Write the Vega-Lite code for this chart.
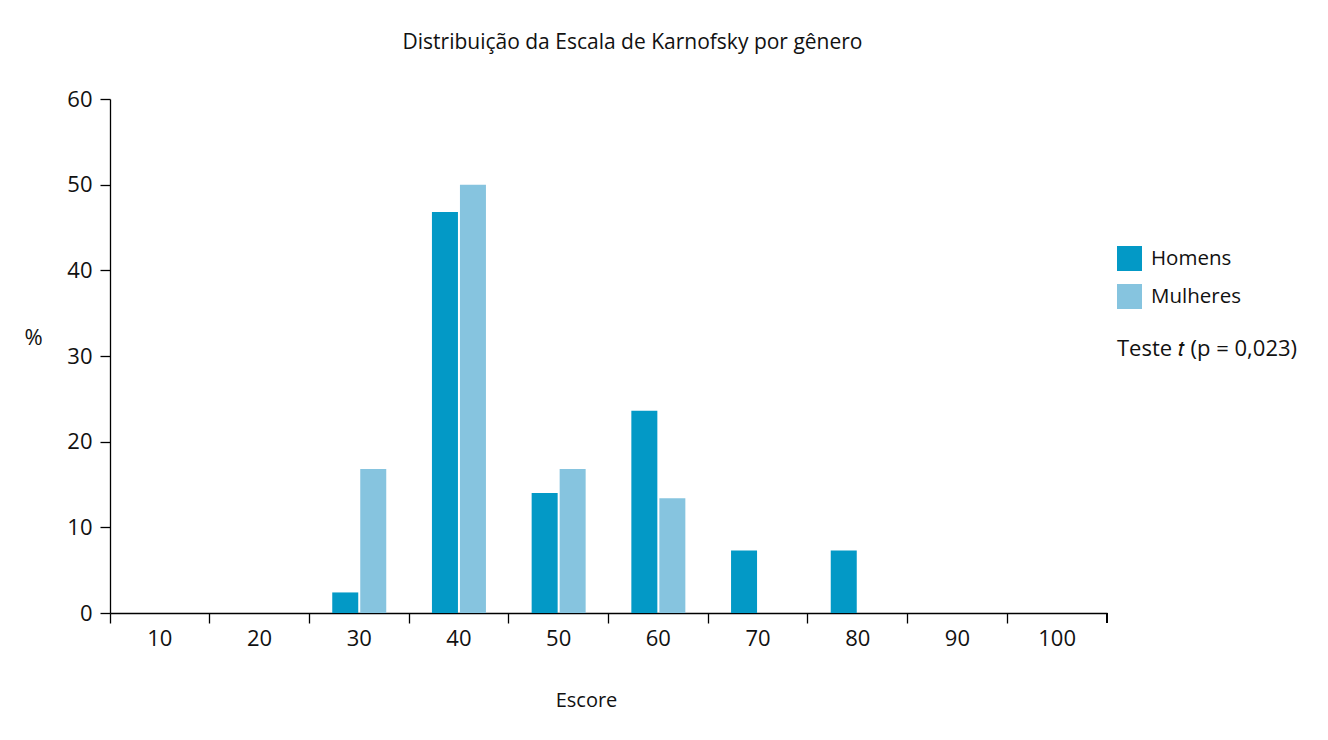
{
  "$schema": "https://vega.github.io/schema/vega-lite/v6.json",
  "autosize": "none",
  "width": 997,
  "height": 514,
  "padding": {"left": 110, "top": 99, "right": 221, "bottom": 127},
  "background": "white",
  "config": {
    "view": {"stroke": null},
    "font": "Open Sans",
    "axis": {"domainColor": "#000000", "tickColor": "#000000", "labelColor": "#111111", "titleColor": "#111111", "grid": false, "labelFontSize": 22, "titleFontSize": 20, "titleFontWeight": "normal", "tickSize": 10, "domainWidth": 1.3, "tickWidth": 1.3},
    "legend": {"labelFontSize": 20.5, "labelColor": "#111111", "titleFontSize": 22, "titleFontWeight": "normal", "titleColor": "#111111", "titleLimit": 400}
  },
  "title": {"text": "Distribuição da Escala de Karnofsky por gênero", "fontSize": 21, "fontWeight": "normal", "color": "#111111", "anchor": "middle", "dx": 24, "offset": 35},
  "data": {"values": [
    {"score": "10", "genero": "Homens", "pct": 0},
    {"score": "10", "genero": "Mulheres", "pct": 0},
    {"score": "20", "genero": "Homens", "pct": 0},
    {"score": "20", "genero": "Mulheres", "pct": 0},
    {"score": "30", "genero": "Homens", "pct": 2.4},
    {"score": "30", "genero": "Mulheres", "pct": 16.8},
    {"score": "40", "genero": "Homens", "pct": 46.8},
    {"score": "40", "genero": "Mulheres", "pct": 50.0},
    {"score": "50", "genero": "Homens", "pct": 14.0},
    {"score": "50", "genero": "Mulheres", "pct": 16.8},
    {"score": "60", "genero": "Homens", "pct": 23.6},
    {"score": "60", "genero": "Mulheres", "pct": 13.4},
    {"score": "70", "genero": "Homens", "pct": 7.3},
    {"score": "70", "genero": "Mulheres", "pct": 0},
    {"score": "80", "genero": "Homens", "pct": 7.3},
    {"score": "80", "genero": "Mulheres", "pct": 0},
    {"score": "90", "genero": "Homens", "pct": 0},
    {"score": "90", "genero": "Mulheres", "pct": 0},
    {"score": "100", "genero": "Homens", "pct": 0},
    {"score": "100", "genero": "Mulheres", "pct": 0}
  ]},
  "layer": [
    {
      "mark": {"type": "bar"},
      "encoding": {
        "x": {"field": "score", "type": "ordinal", "sort": ["10","20","30","40","50","60","70","80","90","100"],
              "scale": {"paddingInner": 0, "paddingOuter": 0},
              "axis": {"title": "Escore", "labelAngle": 0, "bandPosition": 0, "labelDx": 50, "labelPadding": 5, "titleX": 476, "titleY": 87, "titleBaseline": "middle", "titleAnchor": "middle"}},
        "xOffset": {"field": "genero", "type": "nominal", "scale": {"paddingInner": 0.0714, "paddingOuter": 0.816}},
        "y": {"field": "pct", "type": "quantitative", "scale": {"domain": [0, 60]},
              "axis": {"title": "%", "titleFontSize": 22, "titleAngle": 0, "titleX": -77, "titleY": 238, "titleBaseline": "middle", "titleAlign": "center", "values": [0,10,20,30,40,50,60], "labelPadding": 8}},
        "color": {"field": "genero", "type": "nominal",
                  "scale": {"domain": ["Homens", "Mulheres"], "range": ["#0399c6", "#86c4df"]},
                  "legend": {"title": "Teste 𝑡 (p = 0,023)", "titleOrient": "bottom", "titlePadding": 30, "orient": "none", "legendX": 1007, "legendY": 147, "symbolType": "square", "symbolSize": 625, "symbolStrokeWidth": 0, "labelOffset": 9, "rowPadding": 13, "padding": 0}}
      }
    },
    {
      "mark": {"type": "rule", "color": "#000000", "strokeWidth": 1.3},
      "encoding": {
        "x": {"datum": "100", "type": "ordinal", "bandPosition": 1},
        "y": {"datum": 0, "type": "quantitative"},
        "y2": {"datum": -1.17}
      }
    }
  ]
}
